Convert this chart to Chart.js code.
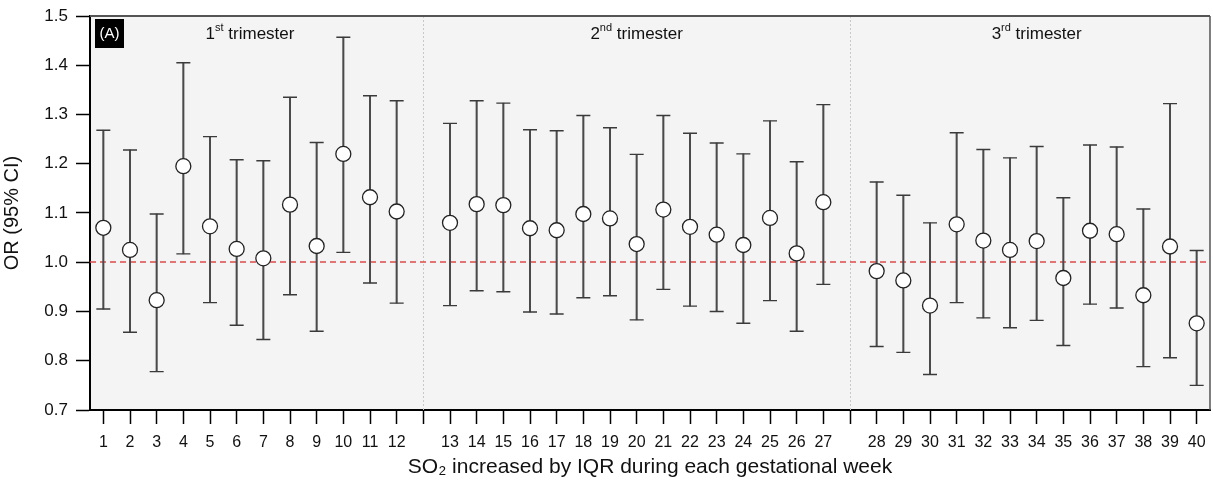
<!DOCTYPE html>
<html>
<head>
<meta charset="utf-8">
<style>
    html, body { margin: 0; padding: 0; background: #fff; overflow: hidden; }
    #wrap { width: 1213px; height: 488px; position: relative; }
</style>
<script src="https://cdn.jsdelivr.net/npm/chart.js@4.4.1/dist/chart.umd.min.js"></script>
</head>
<body>
<div id="wrap"><canvas id="chart"></canvas></div>
<script>
// weeks per trimester (x categories)
var trimester1 = ['1', '2', '3', '4', '5', '6', '7', '8', '9', '10', '11', '12'];
var trimester2 = ['13', '14', '15', '16', '17', '18', '19', '20', '21', '22', '23', '24', '25', '26', '27'];
var trimester3 = ['28', '29', '30', '31', '32', '33', '34', '35', '36', '37', '38', '39', '40'];
var trimesterNames = [['1', 'st'], ['2', 'nd'], ['3', 'rd']];

// odds ratio and 95% CI, week 1..40
var oddsRatio = [1.070, 1.025, 0.923, 1.195, 1.073, 1.027, 1.008, 1.117, 1.033, 1.220, 1.132, 1.103,
    1.080, 1.118, 1.116, 1.069, 1.065, 1.098, 1.089, 1.037, 1.107, 1.072, 1.056, 1.035, 1.090, 1.018, 1.122,
    0.982, 0.963, 0.912, 1.077, 1.044, 1.025, 1.043, 0.968, 1.064, 1.057, 0.933, 1.032, 0.876];
var ciLower = [0.905, 0.858, 0.778, 1.017, 0.918, 0.872, 0.843, 0.934, 0.860, 1.020, 0.958, 0.917,
    0.912, 0.942, 0.940, 0.899, 0.895, 0.928, 0.932, 0.883, 0.945, 0.911, 0.900, 0.876, 0.922, 0.860, 0.955,
    0.829, 0.817, 0.772, 0.918, 0.887, 0.867, 0.882, 0.831, 0.915, 0.907, 0.788, 0.806, 0.750];
var ciUpper = [1.268, 1.228, 1.098, 1.405, 1.255, 1.208, 1.206, 1.335, 1.243, 1.457, 1.338, 1.328,
    1.282, 1.328, 1.323, 1.269, 1.267, 1.298, 1.273, 1.219, 1.298, 1.262, 1.242, 1.220, 1.287, 1.204, 1.320,
    1.163, 1.136, 1.080, 1.263, 1.229, 1.212, 1.235, 1.131, 1.238, 1.234, 1.108, 1.322, 1.024];

var referenceOR = 1.0;
var yTicks = { min: 0.7, max: 1.5, step: 0.1 };

// labels with an empty slot between trimesters
var labels = trimester1.concat([''], trimester2, [''], trimester3);

function withGaps(values) {
    var a = trimester1.length;
    var b = a + trimester2.length;
    return values.slice(0, a).concat([null], values.slice(a, b), [null], values.slice(b));
}

var orData = withGaps(oddsRatio);
var lowData = withGaps(ciLower);
var highData = withGaps(ciUpper);
var rangeData = lowData.map(function (low, i) {
    return low === null ? null : [low, highData[i]];
});

var font = "'Liberation Sans', Arial, sans-serif";

var decorations = {
    id: 'decorations',
    beforeDraw: function (chart) {
        var area = chart.chartArea;
        var ctx = chart.ctx;
        ctx.save();
        ctx.fillStyle = '#f4f4f4';
        ctx.fillRect(area.left, area.top, area.right - area.left, area.bottom - area.top);
        ctx.restore();
    },
    beforeDatasetsDraw: function (chart) {
        var area = chart.chartArea;
        var ctx = chart.ctx;
        var x = chart.scales.x;
        var y = chart.scales.y;
        ctx.save();
        // trimester separators
        ctx.strokeStyle = '#c8c8c8';
        ctx.lineWidth = 1;
        ctx.setLineDash([2, 2]);
        labels.forEach(function (label, i) {
            if (label === '') {
                var px = Math.round(x.getPixelForValue(i)) + 0.5;
                ctx.beginPath();
                ctx.moveTo(px, area.top);
                ctx.lineTo(px, area.bottom);
                ctx.stroke();
            }
        });
        // reference line at OR = 1
        var py = Math.round(y.getPixelForValue(referenceOR));
        ctx.strokeStyle = '#dc4a4a';
        ctx.lineWidth = 1.5;
        ctx.setLineDash([6, 4]);
        ctx.beginPath();
        ctx.moveTo(area.left, py);
        ctx.lineTo(area.right, py);
        ctx.stroke();
        ctx.restore();
    },
    afterDraw: function (chart) {
        var area = chart.chartArea;
        var ctx = chart.ctx;
        var x = chart.scales.x;
        ctx.save();
        // frame top / right
        ctx.strokeStyle = '#555';
        ctx.lineWidth = 2;
        ctx.beginPath();
        ctx.moveTo(area.left, area.top);
        ctx.lineTo(area.right, area.top);
        ctx.stroke();
        ctx.lineWidth = 1.5;
        ctx.beginPath();
        ctx.moveTo(area.right, area.top);
        ctx.lineTo(area.right, area.bottom);
        ctx.stroke();

        // panel tag
        ctx.fillStyle = '#000';
        ctx.fillRect(area.left + 5, area.top + 3, 29, 29);
        ctx.fillStyle = '#fff';
        ctx.font = '15px ' + font;
        ctx.textAlign = 'center';
        ctx.textBaseline = 'middle';
        ctx.fillText('(A)', area.left + 19.5, area.top + 18);

        // trimester titles
        var groups = [trimester1, trimester2, trimester3];
        groups.forEach(function (weeks, g) {
            var first = labels.indexOf(weeks[0]);
            var last = labels.indexOf(weeks[weeks.length - 1]);
            var cx = (x.getPixelForValue(first) + x.getPixelForValue(last)) / 2;
            var cy = area.top + 18;
            var num = trimesterNames[g][0];
            var sup = trimesterNames[g][1];
            var rest = ' trimester';
            ctx.font = '17px ' + font;
            var wNum = ctx.measureText(num).width;
            var wRest = ctx.measureText(rest).width;
            ctx.font = '11px ' + font;
            var wSup = ctx.measureText(sup).width;
            var start = cx - (wNum + wSup + wRest) / 2;
            ctx.fillStyle = '#111';
            ctx.textAlign = 'left';
            ctx.textBaseline = 'middle';
            ctx.font = '17px ' + font;
            ctx.fillText(num, start, cy);
            ctx.font = '11px ' + font;
            ctx.fillText(sup, start + wNum, cy - 6);
            ctx.font = '17px ' + font;
            ctx.fillText(rest, start + wNum + wSup, cy);
        });
        ctx.restore();
    }
};

new Chart(document.getElementById('chart'), {
    type: 'bar',
    data: {
        labels: labels,
        datasets: [
            {
                label: 'OR',
                type: 'line',
                data: orData,
                showLine: false,
                pointRadius: 7.5,
                pointBackgroundColor: '#fff',
                pointBorderColor: '#222',
                pointBorderWidth: 1.3,
                order: 1
            },
            {
                label: 'Upper',
                type: 'line',
                data: highData,
                showLine: false,
                pointStyle: 'line',
                pointRadius: 7,
                pointBorderColor: '#3a3a3a',
                pointBorderWidth: 1.4,
                order: 2
            },
            {
                label: 'Lower',
                type: 'line',
                data: lowData,
                showLine: false,
                pointStyle: 'line',
                pointRadius: 7,
                pointBorderColor: '#3a3a3a',
                pointBorderWidth: 1.4,
                order: 3
            },
            {
                label: '95% CI',
                data: rangeData,
                backgroundColor: '#4a4a4a',
                barThickness: 1.4,
                borderSkipped: false,
                order: 4
            }
        ]
    },
    options: {
        responsive: true,
        maintainAspectRatio: false,
        animation: false,
        layout: { autoPadding: false, padding: { top: 16, right: 3, left: 0, bottom: 0 } },
        plugins: {
            legend: { display: false },
            tooltip: { enabled: false }
        },
        scales: {
            x: {
                offset: true,
                grid: {
                    offset: false,
                    drawOnChartArea: false,
                    tickLength: 14,
                    tickColor: '#000',
                    tickWidth: 1.5
                },
                border: { color: '#000', width: 2 },
                ticks: {
                    autoSkip: false,
                    maxRotation: 0,
                    padding: 9,
                    color: '#111',
                    font: { family: font, size: 16 }
                },
                title: {
                    display: true,
                    text: 'SO\u2082 increased by IQR during each gestational week',
                    color: '#111',
                    padding: { top: 0, bottom: 8 },
                    font: { family: font, size: 21 }
                },
                afterFit: function (scale) {
                    scale.height = 78;
                    scale.paddingLeft = 0;
                    scale.paddingRight = 0;
                }
            },
            y: {
                min: yTicks.min,
                max: yTicks.max,
                grid: {
                    drawOnChartArea: false,
                    tickLength: 14,
                    tickColor: '#000',
                    tickWidth: 1.5
                },
                border: { color: '#000', width: 2 },
                ticks: {
                    stepSize: yTicks.step,
                    padding: 8,
                    color: '#111',
                    font: { family: font, size: 17 },
                    callback: function (value) { return Number(value).toFixed(1); }
                },
                title: {
                    display: true,
                    text: 'OR (95% CI)',
                    color: '#111',
                    padding: { top: 0, bottom: 2 },
                    font: { family: font, size: 20 }
                },
                afterFit: function (scale) {
                    scale.width = 90;
                    scale.paddingTop = 0;
                    scale.paddingBottom = 0;
                }
            }
        }
    },
    plugins: [decorations]
});
</script>
</body>
</html>
